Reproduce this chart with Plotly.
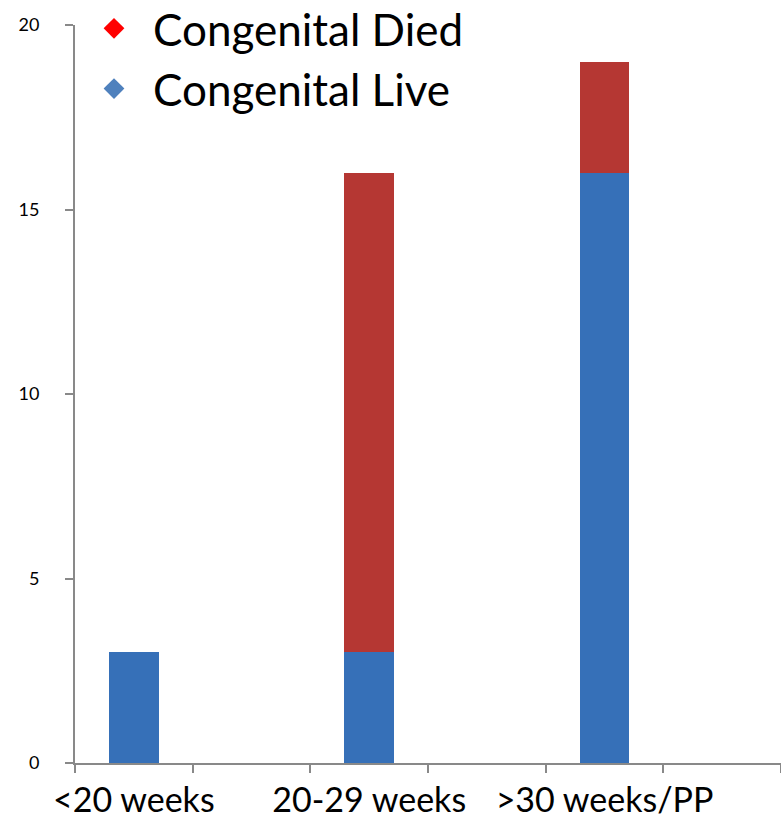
import plotly.graph_objects as go

categories = ["<20 weeks", "20-29 weeks", ">30 weeks/PP"]
live = [3, 3, 16]
died = [0, 13, 3]
y_ticks = [0, 5, 10, 15, 20]

# category slots: each labelled category followed by an empty spacer slot
slots = []
for i, c in enumerate(categories):
    slots.append(c)
    slots.append(" " * (i + 1))

fig = go.Figure()
fig.add_trace(go.Bar(x=categories, y=live, name="Congenital Live", width=0.42,
                     marker=dict(color="#3670b8", line=dict(width=0)), showlegend=False))
fig.add_trace(go.Bar(x=categories, y=died, name="Congenital Died", width=0.42,
                     marker=dict(color="#b53733", line=dict(width=0)), showlegend=False))
# legend entries (diamond symbols)
fig.add_trace(go.Scatter(x=[None], y=[None], mode="markers", name="Congenital Died",
                         marker=dict(symbol="diamond", color="#ff0000", size=20)))
fig.add_trace(go.Scatter(x=[None], y=[None], mode="markers", name="Congenital Live",
                         marker=dict(symbol="diamond", color="#4f81bd", size=20)))

fig.update_layout(
    width=781, height=818,
    margin=dict(l=75, r=0, t=25, b=55, autoexpand=False),
    barmode="stack",
    plot_bgcolor="white", paper_bgcolor="white",
    font=dict(family="Lato, sans-serif", color="black"),
    legend=dict(x=0.0, y=1.043, xanchor="left", yanchor="top",
                font=dict(size=44), bgcolor="rgba(0,0,0,0)",
                traceorder="normal", itemsizing="trace", itemwidth=68),
    xaxis=dict(type="category", categoryorder="array", categoryarray=slots,
               range=[-0.5, len(slots) - 0.5], tickson="boundaries",
               ticks="outside", ticklen=8, tickwidth=2, tickcolor="#898989",
               showline=True, linecolor="#898989", linewidth=2, tickangle=0,
               showgrid=False, tickfont=dict(size=34), automargin=False,
               ticklabelstandoff=6),
    yaxis=dict(range=[0, 20], tickvals=y_ticks, ticks="outside", ticklen=8,
               tickwidth=2, tickcolor="#898989", showline=True,
               linecolor="#898989", linewidth=2, showgrid=False, zeroline=False,
               tickfont=dict(size=18), ticklabelstandoff=22),
)

fig.write_html("out.html")
